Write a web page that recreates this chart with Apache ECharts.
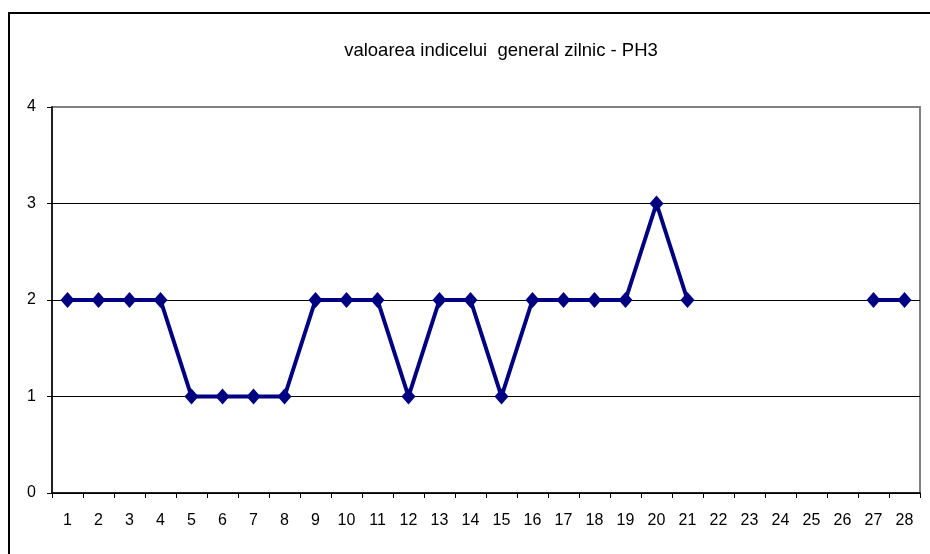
<!DOCTYPE html>
<html><head><meta charset="utf-8">
<script src="https://cdn.jsdelivr.net/npm/echarts@6/dist/echarts.min.js"></script>
<style>html,body{margin:0;padding:0;background:#fff}#c{width:930px;height:554px}</style>
</head><body><div id="c"></div>
<script>
const titleText = 'valoarea indicelui  general zilnic - PH3';
const days = ['1','2','3','4','5','6','7','8','9','10','11','12','13','14','15','16','17','18','19','20','21','22','23','24','25','26','27','28'];
const values = [2,2,2,2,1,1,1,1,2,2,2,1,2,2,1,2,2,2,2,3,2,null,null,null,null,null,2,2];
const yTicks = [0,1,2,3,4];

const chart = echarts.init(document.getElementById('c'));
chart.setOption({
  animation:false,
  backgroundColor:'#fff',
  title:{text:titleText,left:496,top:36,textAlign:'center',
    textStyle:{fontFamily:'Liberation Sans',fontSize:18.5,fontWeight:'normal',color:'#000'}},
  graphic:[{type:'rect',shape:{x:9,y:13,width:1000,height:1000},
    style:{fill:'none',stroke:'#000',lineWidth:2},z:-1}],
  grid:{left:52,right:10,top:107,bottom:61,show:true,borderColor:'#808080',borderWidth:2,backgroundColor:'transparent'},
  xAxis:{type:'category',data:days,boundaryGap:true,
    axisLine:{lineStyle:{color:'#000',width:1.5}},
    axisTick:{show:true,alignWithLabel:false,length:5,lineStyle:{color:'#000'}},
    axisLabel:{color:'#000',fontFamily:'Liberation Sans',fontSize:16,margin:20}},
  yAxis:{type:'value',min:0,max:4,interval:1,
    axisLine:{show:true,lineStyle:{color:'#000',width:1.5}},
    axisTick:{show:true,length:5,lineStyle:{color:'#000'}},
    axisLabel:{color:'#000',fontFamily:'Liberation Sans',fontSize:16,margin:16,
      formatter:v=>yTicks.includes(v)?String(v):''},
    splitLine:{show:true,lineStyle:{color:['#000','#000','#000','#000','#808080'],width:1}}},
  series:[{type:'line',data:values,connectNulls:false,
    lineStyle:{color:'#000080',width:4},
    itemStyle:{color:'#000080'},
    symbol:'diamond',symbolSize:[14,16],showSymbol:true}]
});
</script></body></html>
